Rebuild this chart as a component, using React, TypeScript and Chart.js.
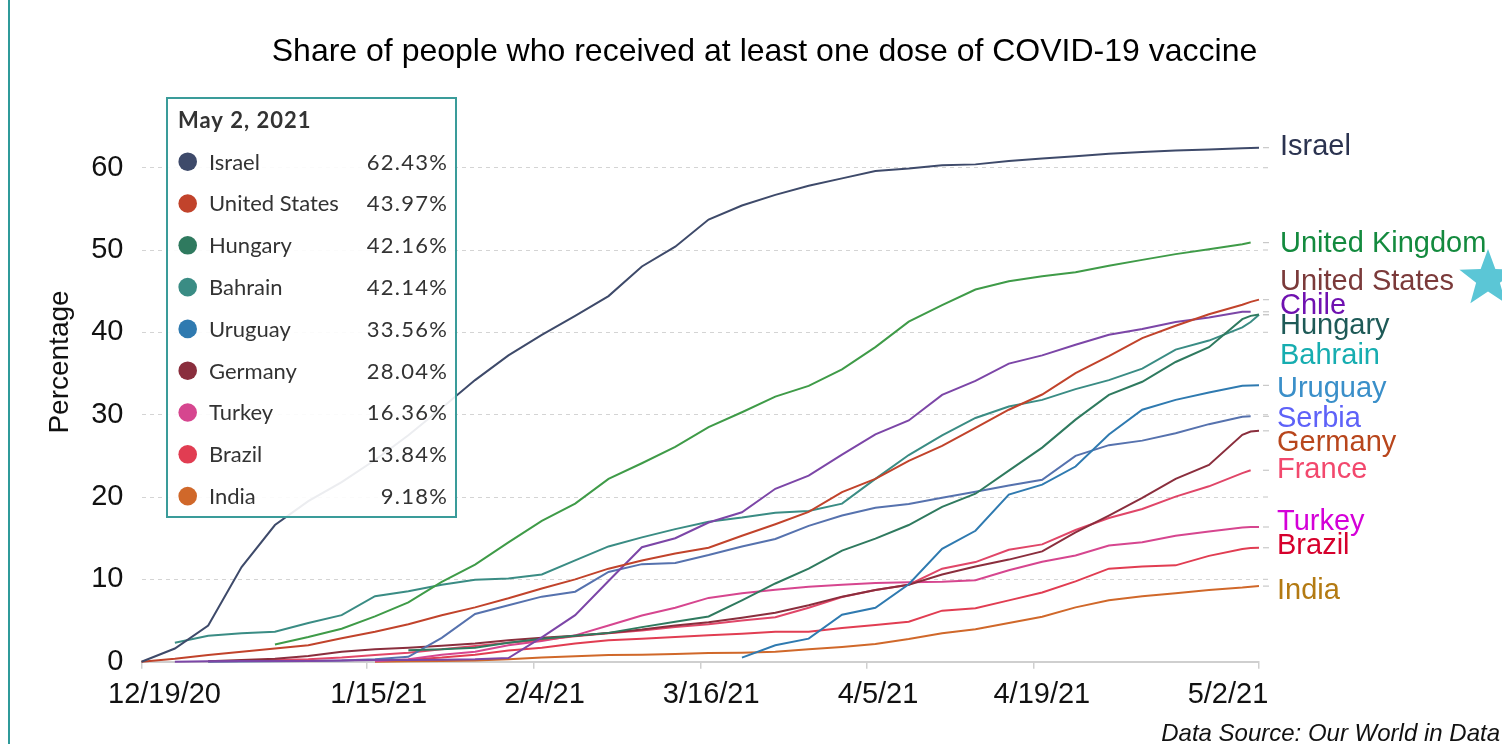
import React, { useEffect, useRef } from 'react';
import { Chart, registerables } from 'chart.js';

Chart.register(...registerables);

// ---------- data ----------
const DAYS = [0, 4, 8, 12, 16, 20, 24, 28, 32, 36, 40, 44, 48, 52, 56, 60, 64, 68, 72, 76, 80, 84, 88, 92, 96, 100, 104, 108, 112, 116, 120, 124, 128, 132, 133, 134];

const X_TICK_DAYS = [0, 27, 47, 67, 87, 107, 134];
const X_TICK_LABELS = ['12/19/20', '1/15/21', '2/4/21', '3/16/21', '4/5/21', '4/19/21', '5/2/21'];
const Y_TICKS = [0, 10, 20, 30, 40, 50, 60];

const ISRAEL = [0, 1.6, 4.4, 11.5, 16.6, 19.5, 21.8, 24.5, 27.5, 30.8, 34.2, 37.2, 39.7, 42.0, 44.4, 48.0, 50.4, 53.7, 55.4, 56.7, 57.8, 58.7, 59.6, 59.9, 60.3, 60.4, 60.8, 61.1, 61.4, 61.7, 61.9, 62.1, 62.2, 62.35, 62.4, 62.43];
const UNITED_KINGDOM = [null, null, null, null, 2.1, 3.0, 4.0, 5.5, 7.2, 9.7, 11.8, 14.5, 17.1, 19.2, 22.2, 24.1, 26.1, 28.5, 30.3, 32.2, 33.5, 35.5, 38.2, 41.3, 43.3, 45.2, 46.2, 46.8, 47.3, 48.1, 48.8, 49.5, 50.1, 50.7, 50.9, null];
const UNITED_STATES = [0, 0.35, 0.8, 1.2, 1.6, 2.0, 2.85, 3.65, 4.55, 5.65, 6.6, 7.7, 8.9, 10.0, 11.3, 12.3, 13.15, 13.85, 15.3, 16.7, 18.2, 20.6, 22.2, 24.4, 26.2, 28.4, 30.6, 32.45, 35.05, 37.1, 39.3, 40.8, 42.2, 43.35, 43.7, 43.97];
const CHILE = [null, 0, 0.05, 0.1, 0.1, 0.1, 0.15, 0.2, 0.2, 0.25, 0.3, 0.45, 2.95, 5.65, 9.8, 13.9, 15.0, 16.9, 18.15, 21.0, 22.6, 25.15, 27.6, 29.3, 32.4, 34.1, 36.2, 37.2, 38.5, 39.7, 40.4, 41.25, 41.8, 42.5, 42.5, null];
const HUNGARY = [null, null, null, null, null, null, null, null, 1.4, 1.5, 1.7, 2.3, 2.8, 3.15, 3.5, 4.2, 4.85, 5.5, 7.45, 9.5, 11.3, 13.5, 14.95, 16.6, 18.8, 20.4, 23.2, 26.0, 29.4, 32.4, 34.0, 36.4, 38.2, 41.6, 42.0, 42.16];
const BAHRAIN = [null, 2.3, 3.15, 3.45, 3.65, 4.7, 5.65, 7.95, 8.55, 9.35, 9.95, 10.1, 10.6, 12.3, 14.0, 15.1, 16.1, 17.0, 17.5, 18.1, 18.3, 19.2, 22.2, 25.1, 27.5, 29.6, 31.0, 31.8, 33.1, 34.2, 35.6, 37.9, 39.0, 40.6, 41.25, 42.14];
const URUGUAY = [null, null, null, null, null, null, null, null, null, null, null, null, null, null, null, null, null, null, 0.5, 2.0, 2.8, 5.7, 6.55, 9.4, 13.7, 15.9, 20.3, 21.5, 23.7, 27.6, 30.6, 31.8, 32.7, 33.5, 33.55, 33.56];
const SERBIA = [null, null, 0, 0.02, 0.05, 0.1, 0.15, 0.3, 0.6, 2.9, 5.8, 6.85, 7.9, 8.5, 10.9, 11.85, 12.0, 12.95, 14.0, 14.9, 16.5, 17.75, 18.7, 19.15, 19.9, 20.65, 21.4, 22.1, 25.0, 26.3, 26.85, 27.75, 28.85, 29.75, 29.8, null];
const GERMANY = [null, null, 0.05, 0.2, 0.35, 0.7, 1.2, 1.5, 1.7, 1.95, 2.2, 2.6, 2.9, 3.15, 3.5, 3.9, 4.4, 4.8, 5.35, 5.95, 6.85, 7.9, 8.7, 9.35, 10.6, 11.55, 12.4, 13.4, 15.7, 17.75, 19.9, 22.2, 23.9, 27.55, 27.95, 28.04];
const FRANCE = [null, null, 0.05, 0.1, 0.2, 0.3, 0.5, 0.8, 1.1, 1.5, 1.9, 2.3, 2.65, 3.1, 3.45, 3.8, 4.2, 4.55, 5.0, 5.4, 6.55, 7.85, 8.7, 9.35, 11.3, 12.1, 13.6, 14.25, 16.0, 17.45, 18.55, 20.05, 21.3, 22.9, 23.25, null];
const TURKEY = [null, null, null, null, null, null, null, 0.05, 0.3, 0.85, 1.2, 2.0, 2.5, 3.2, 4.4, 5.6, 6.55, 7.75, 8.3, 8.75, 9.1, 9.35, 9.55, 9.65, 9.7, 9.9, 11.1, 12.15, 12.9, 14.1, 14.5, 15.3, 15.8, 16.3, 16.35, 16.36];
const BRAZIL = [null, null, null, null, null, null, null, null, 0.25, 0.5, 0.85, 1.35, 1.7, 2.2, 2.6, 2.8, 3.0, 3.2, 3.4, 3.65, 3.65, 4.1, 4.45, 4.85, 6.2, 6.5, 7.45, 8.4, 9.75, 11.3, 11.55, 11.7, 12.85, 13.7, 13.8, 13.84];
const INDIA = [null, null, null, null, null, null, null, 0, 0.05, 0.1, 0.15, 0.3, 0.5, 0.65, 0.8, 0.85, 0.95, 1.05, 1.1, 1.2, 1.5, 1.8, 2.15, 2.75, 3.45, 3.95, 4.7, 5.45, 6.6, 7.45, 7.95, 8.3, 8.7, 9.0, 9.1, 9.18];

const SERIES_NAMES = ['Israel', 'United Kingdom', 'United States', 'Chile', 'Hungary', 'Bahrain', 'Uruguay', 'Serbia', 'Germany', 'France', 'Turkey', 'Brazil', 'India'];
const SERIES_VALUES = [ISRAEL, UNITED_KINGDOM, UNITED_STATES, CHILE, HUNGARY, BAHRAIN, URUGUAY, SERBIA, GERMANY, FRANCE, TURKEY, BRAZIL, INDIA];

const TOOLTIP_DATE = 'May 2, 2021';
const TOOLTIP_SERIES = ['Israel', 'United States', 'Hungary', 'Bahrain', 'Uruguay', 'Germany', 'Turkey', 'Brazil', 'India'];

const TITLE = 'Share of people who received at least one dose of COVID-19 vaccine';
const Y_TITLE = 'Percentage';
const SOURCE = 'Data Source: Our World in Data';

// ---------- styles ----------
const LINE_COLORS = ['#3e4a6a', '#3f9b48', '#c1432b', '#7c46a7', '#2f7a5f', '#3a8c84', '#2f7ab0', '#5672ae', '#8a2e3d', '#e04668', '#d6468f', '#e13d52', '#d0682a'];
const LABEL_COLORS = ['#2b3350', '#138a3e', '#7b3a3a', '#6f11b0', '#1e5a57', '#16adb0', '#3a8fc9', '#5e62f8', '#b8461c', '#f2486d', '#d400d8', '#d6002c', '#b37a12'];
const LABEL_DY = [-2.7, -0.9, -19.7, -7.8, 9.4, 38.6, 1.3, 0, 9.9, -2.4, -7.3, -4.4, 2.2];
const LABEL_DX = [21, 21, 21, 21, 21, 21, 18, 18, 18, 18, 18, 18, 18];
const X_LABEL_SHIFT = [23, 12, 11, 11, 11, 8, -31];

const SANS = '"Liberation Sans", Arial, sans-serif';
const LATO = 'Lato, "Noto Sans", sans-serif';

const W = 1502;
const H = 744;

function lastValue(arr: (number | null)[]): number {
  for (let i = arr.length - 1; i >= 0; i--) {
    if (arr[i] !== null) return arr[i] as number;
  }
  return 0;
}

const overlayPlugin = {
  id: 'overlay',
  afterDraw(chart: any) {
    const { ctx, scales } = chart;
    const xs = scales.x;
    const ys = scales.y;
    ctx.save();

    // page left border
    ctx.fillStyle = '#2f9a9a';
    ctx.fillRect(8, 0, 2, H);

    // title
    ctx.fillStyle = '#000';
    ctx.font = `32px ${SANS}`;
    ctx.textAlign = 'center';
    ctx.textBaseline = 'alphabetic';
    ctx.fillText(TITLE, 764.5, 61);

    // y axis title
    ctx.save();
    ctx.translate(57.5, 362);
    ctx.rotate(-Math.PI / 2);
    ctx.font = `28px ${SANS}`;
    ctx.fillStyle = '#111';
    ctx.textAlign = 'center';
    ctx.fillText(Y_TITLE, 0, 10);
    ctx.restore();

    // x labels
    ctx.font = `29px ${SANS}`;
    ctx.fillStyle = '#111';
    ctx.textAlign = 'center';
    X_TICK_DAYS.forEach((d, i) => {
      ctx.fillText(X_TICK_LABELS[i], xs.getPixelForValue(d) + X_LABEL_SHIFT[i], 703);
    });

    // gridline extension dashes
    ctx.strokeStyle = '#cfcfcf';
    ctx.lineWidth = 1.2;
    Y_TICKS.forEach((v) => {
      if (v === 0) return;
      const y = ys.getPixelForValue(v);
      ctx.beginPath();
      ctx.moveTo(xs.right + 4, y);
      ctx.lineTo(xs.right + 9, y);
      ctx.stroke();
    });

    // leader dashes + end labels
    ctx.font = `29px ${SANS}`;
    ctx.textAlign = 'left';
    SERIES_NAMES.forEach((name, i) => {
      const yEnd = ys.getPixelForValue(lastValue(SERIES_VALUES[i]));
      ctx.strokeStyle = '#c8c8c8';
      ctx.beginPath();
      ctx.moveTo(xs.right + 4, yEnd);
      ctx.lineTo(xs.right + 10, yEnd);
      ctx.stroke();
      ctx.fillStyle = LABEL_COLORS[i];
      ctx.fillText(name, xs.right + LABEL_DX[i], yEnd + LABEL_DY[i] + 10.4);
    });

    // star
    const cx = 1488, cy = 279, R = 30, r = 12.5;
    ctx.fillStyle = '#5bc6d6';
    ctx.beginPath();
    for (let k = 0; k < 10; k++) {
      const ang = -Math.PI / 2 + (k * Math.PI) / 5;
      const rad = k % 2 === 0 ? R : r;
      const px = cx + rad * Math.cos(ang);
      const py = cy + rad * Math.sin(ang);
      if (k === 0) ctx.moveTo(px, py); else ctx.lineTo(px, py);
    }
    ctx.closePath();
    ctx.fill();

    // tooltip box
    const bx = 166, by = 97, bw = 291, bh = 421;
    ctx.fillStyle = 'rgba(255,255,255,0.9)';
    ctx.fillRect(bx, by, bw, bh);
    ctx.strokeStyle = '#3a9c9a';
    ctx.lineWidth = 2;
    ctx.strokeRect(bx + 1, by + 1, bw - 2, bh - 2);
    ctx.fillStyle = '#333';
    ctx.font = `bold 22px ${LATO}`;
    ctx.textAlign = 'left';
    (ctx as any).letterSpacing = '1px';
    ctx.fillText(TOOLTIP_DATE, 178, 128);
    TOOLTIP_SERIES.forEach((name, i) => {
      const idx = SERIES_NAMES.indexOf(name);
      const yc = 161.7 + i * 41.8;
      ctx.fillStyle = LINE_COLORS[idx];
      ctx.beginPath();
      ctx.arc(187.7, yc, 9.3, 0, Math.PI * 2);
      ctx.fill();
      ctx.fillStyle = '#333';
      ctx.font = `22px ${LATO}`;
      ctx.textAlign = 'left';
      (ctx as any).letterSpacing = '0px';
      ctx.fillText(name, 209, yc + 7.9);
      ctx.textAlign = 'right';
      (ctx as any).letterSpacing = '1.3px';
      ctx.fillText(lastValue(SERIES_VALUES[idx]).toFixed(2) + '%', 448.3, yc + 7.9);
      (ctx as any).letterSpacing = '0px';
    });

    // source
    ctx.fillStyle = '#111';
    ctx.font = `italic 24px ${SANS}`;
    ctx.textAlign = 'right';
    ctx.fillText(SOURCE, 1500, 741);

    ctx.restore();
  },
};

export default function App() {
  const canvasRef = useRef<HTMLCanvasElement | null>(null);

  useEffect(() => {
    const canvas = canvasRef.current;
    if (!canvas) return;
    const datasets = SERIES_NAMES.map((name, i) => ({
      label: name,
      data: DAYS.map((d, j) => ({ x: d, y: SERIES_VALUES[i][j] })),
      borderColor: LINE_COLORS[i],
      backgroundColor: LINE_COLORS[i],
      borderWidth: 2,
      pointRadius: 0,
      tension: 0,
      fill: false,
      spanGaps: false,
      clip: false as any,
    }));

    const chart = new Chart(canvas, {
      type: 'line',
      data: { datasets },
      plugins: [overlayPlugin],
      options: {
        responsive: false,
        animation: false,
        devicePixelRatio: 1,
        layout: { padding: { left: 0, right: W - 1259, top: 126.5, bottom: 0 } },
        plugins: {
          legend: { display: false },
          tooltip: { enabled: false },
          title: { display: false },
        },
        scales: {
          x: {
            type: 'linear',
            min: 0,
            max: 134,
            afterBuildTicks: (s: any) => {
              s.ticks = X_TICK_DAYS.map((v) => ({ value: v }));
            },
            afterFit: (s: any) => {
              s.height = H - 661.7;
            },
            ticks: { display: false },
            grid: { drawOnChartArea: false, drawTicks: true, tickLength: 7, color: '#cfcfcf', lineWidth: 1.5 },
            border: { display: true, color: '#cfcfcf', width: 2 },
          },
          y: {
            type: 'linear',
            min: 0,
            max: 65,
            afterBuildTicks: (s: any) => {
              s.ticks = Y_TICKS.map((v) => ({ value: v }));
            },
            afterFit: (s: any) => {
              s.width = 141.5;
            },
            ticks: {
              padding: 18,
              color: '#111',
              font: { size: 29, family: SANS },
              callback: (v: any) => String(v),
            },
            grid: {
              drawTicks: false,
              lineWidth: 1,
              color: (c: any) => (c.tick && c.tick.value === 0 ? 'rgba(0,0,0,0)' : '#d4d4d4'),
            },
            border: { display: false, dash: [4, 4] },
            title: { display: false },
          },
        },
      },
    } as any);

    return () => chart.destroy();
  }, []);

  return (
    <canvas
      ref={canvasRef}
      width={W}
      height={H}
      style={{ position: 'fixed', left: 0, top: 0, width: W, height: H, display: 'block', background: '#fff' }}
    />
  );
}
